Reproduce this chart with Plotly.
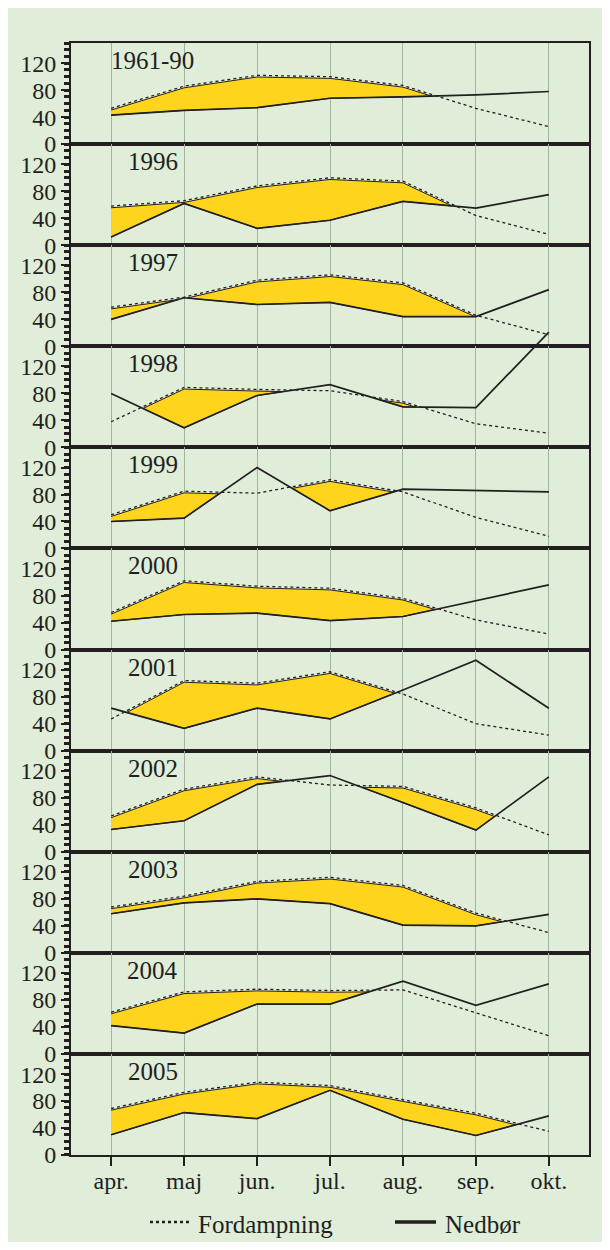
import plotly.graph_objects as go
from plotly.subplots import make_subplots

# Fordampning (evaporation) and Nedbør (precipitation), mm per month
months = ['apr.', 'maj', 'jun.', 'jul.', 'aug.', 'sep.', 'okt.']
years = ['1961-90', '1996', '1997', '1998', '1999', '2000',
         '2001', '2002', '2003', '2004', '2005']

fordampning = [
    [53, 86, 102, 100, 87, 53, 26],    # 1961-90
    [58, 66, 88, 100, 95, 44, 16],     # 1996
    [58, 73, 98, 106, 94, 46, 17],     # 1997
    [38, 89, 86, 84, 68, 35, 21],      # 1998
    [50, 85, 82, 102, 84, 46, 18],     # 1999
    [55, 102, 94, 91, 76, 44, 23],     # 2000
    [47, 104, 100, 117, 84, 40, 23],   # 2001
    [53, 93, 111, 99, 97, 65, 25],     # 2002
    [68, 84, 106, 112, 100, 59, 30],   # 2003
    [62, 92, 96, 94, 95, 61, 27],      # 2004
    [69, 93, 108, 103, 82, 62, 35],    # 2005
]
nedbor = [
    [43, 50, 54, 68, 70, 73, 78],
    [12, 62, 25, 37, 65, 55, 75],
    [40, 72, 62, 65, 44, 44, 84],
    [80, 29, 77, 93, 60, 59, 171],
    [40, 45, 120, 56, 88, 86, 84],
    [42, 52, 54, 43, 49, 73, 96],
    [63, 33, 63, 47, 90, 134, 63],
    [33, 46, 100, 113, 73, 32, 111],
    [58, 74, 80, 73, 41, 40, 57],
    [42, 31, 74, 74, 108, 72, 104],
    [30, 63, 54, 96, 53, 29, 58],
]

DARK = '#231f20'
BG = '#dfedd9'
YELLOW = '#ffd41c'
GRID = '#a3b39f'
FONT = 'Liberation Serif'
OFF = 2.5  # fill top sits just under the dotted line


def deficit_regions(e, p, off):
    """Polygons where evaporation exceeds precipitation."""
    eo = [v - off for v in e]
    regions, cur = [], []
    for i in range(len(e)):
        d = eo[i] - p[i]
        if d > 0:
            cur.append((i, eo[i], p[i]))
        if i < len(e) - 1:
            d2 = eo[i + 1] - p[i + 1]
            if d * d2 < 0:
                t = d / (d - d2)
                yc = p[i] + t * (p[i + 1] - p[i])
                cur.append((i + t, yc, yc))
                if d > 0:
                    regions.append(cur)
                    cur = []
    if cur:
        regions.append(cur)
    polys = []
    for reg in regions:
        xs = [r[0] for r in reg] + [r[0] for r in reversed(reg)]
        ys = [r[1] for r in reg] + [r[2] for r in reversed(reg)]
        polys.append((xs, ys))
    return polys


n = len(years)
fig = make_subplots(rows=n, cols=1, shared_xaxes=True, vertical_spacing=0)
xpos = list(range(len(months)))

for k in range(n):
    row = k + 1
    # 1998 precipitation runs out of its panel: draw it on a taller axis
    if years[k] == '1998':
        ax = dict(xaxis='x12', yaxis='y12')
    else:
        ax = dict(xaxis='x' if row == 1 else f'x{row}',
                  yaxis='y' if row == 1 else f'y{row}')
    for xs, ys in deficit_regions(fordampning[k], nedbor[k], OFF):
        fig.add_trace(go.Scatter(x=xs, y=ys, mode='lines', fill='toself',
                                 fillcolor=YELLOW, line=dict(color=DARK, width=1),
                                 showlegend=False, hoverinfo='skip', **ax))
    fig.add_trace(go.Scatter(x=xpos, y=fordampning[k], mode='lines',
                             name='Fordampning',
                             line=dict(color=DARK, width=1.3, dash='dot'),
                             showlegend=False, **ax))
    fig.add_trace(go.Scatter(x=xpos, y=nedbor[k], mode='lines', name='Nedbør',
                             line=dict(color=DARK, width=1.7),
                             showlegend=False, **ax))
    fig.add_annotation(x=0.57, y=124, text=years[k], showarrow=False,
                       font=dict(family=FONT, size=25, color=DARK),
                       row=row, col=1)

# legend drawn below the plot (keeps the plot area from being pushed)
leg_y = -0.0603
fig.add_shape(type='line', xref='paper', yref='paper', x0=0.1525, x1=0.2297,
              y0=leg_y, y1=leg_y, line=dict(color=DARK, width=2.5, dash='dot'))
fig.add_annotation(xref='paper', yref='paper', x=0.2413, y=leg_y - 0.002,
                   xanchor='left', yanchor='middle', text='Fordampning',
                   showarrow=False, font=dict(family=FONT, size=25, color=DARK))
fig.add_shape(type='line', xref='paper', yref='paper', x0=0.6255, x1=0.7046,
              y0=leg_y, y1=leg_y, line=dict(color=DARK, width=3.5))
fig.add_annotation(xref='paper', yref='paper', x=0.7181, y=leg_y - 0.002,
                   xanchor='left', yanchor='middle', text='Nedbør',
                   showarrow=False, font=dict(family=FONT, size=25, color=DARK))

fig.update_xaxes(range=[-0.55, 6.55], tickvals=xpos, ticktext=months,
                 showgrid=True, gridcolor=GRID, gridwidth=1, zeroline=False,
                 showline=True, mirror=True, linecolor=DARK, linewidth=2,
                 tickfont=dict(family=FONT, size=24, color=DARK))
fig.update_xaxes(ticks='outside', ticklen=9, tickwidth=2, tickcolor=DARK,
                 ticklabelstandoff=-6, row=n, col=1)
fig.update_yaxes(range=[0, 150], tickvals=[0, 40, 80, 120], ticks='outside',
                 ticklen=8, tickwidth=2, tickcolor=DARK, showgrid=False,
                 zeroline=False, showline=True, mirror=True, linecolor=DARK,
                 linewidth=2, tickfont=dict(family=FONT, size=24, color=DARK),
                 minor=dict(dtick=10, ticks='outside', ticklen=5, tickwidth=2.5,
                            tickcolor=DARK))

r4 = n - 4
fig.update_layout(
    xaxis12=dict(domain=[0, 1], range=[-0.55, 6.55], visible=False, anchor='y12'),
    yaxis12=dict(domain=[r4 / n, (r4 + 2) / n], range=[0, 300], visible=False,
                 anchor='x12'),
)

fig.update_layout(
    width=602, height=1234,
    margin=dict(l=63, r=21, t=35, b=87),
    paper_bgcolor=BG, plot_bgcolor='rgba(0,0,0,0)',
    font=dict(family=FONT, color=DARK),
    showlegend=False,
)

fig.write_html("out.html")
